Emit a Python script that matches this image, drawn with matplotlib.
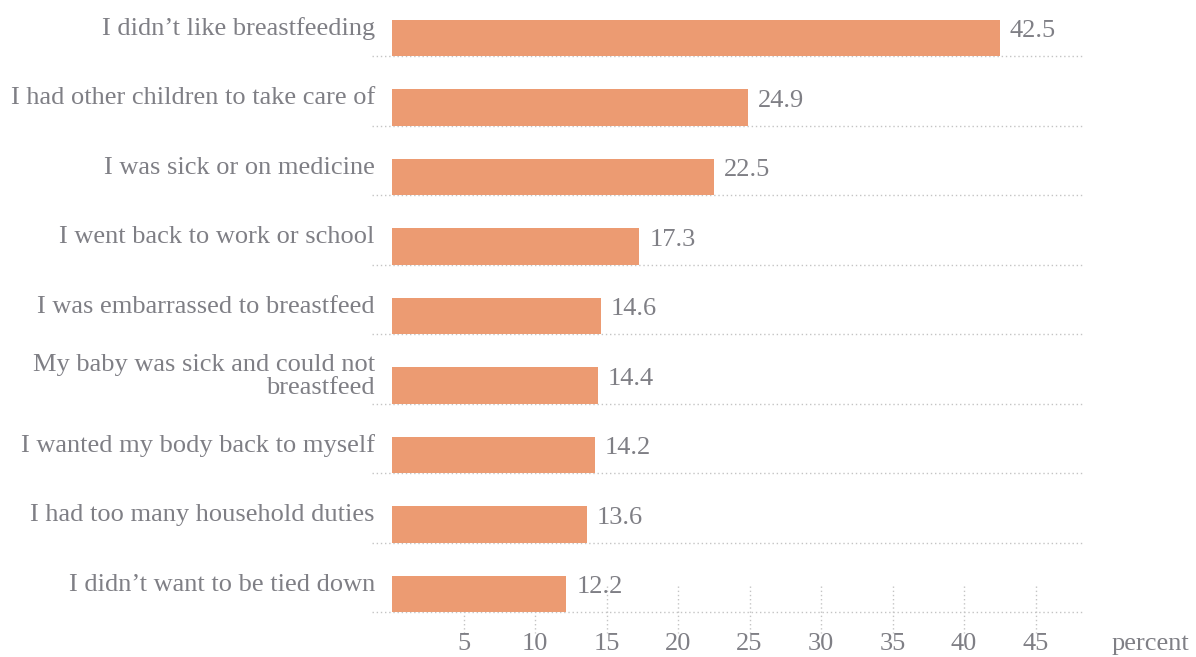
import matplotlib.pyplot as plt
import numpy as np

reasons = [
    "I didn\u2019t like breastfeeding",
    "I had other children to take care of",
    "I was sick or on medicine",
    "I went back to work or school",
    "I was embarrassed to breastfeed",
    "My baby was sick and could not\nbreastfeed",
    "I wanted my body back to myself",
    "I had too many household duties",
    "I didn\u2019t want to be tied down",
]
percent = [42.5, 24.9, 22.5, 17.3, 14.6, 14.4, 14.2, 13.6, 12.2]
ticks = [5, 10, 15, 20, 25, 30, 35, 40, 45]

BAR = "#ec9b72"
TXT = "#7f7f85"
GRID = "#c4c4c4"


def draw():
    plt.rcParams["font.family"] = ["Liberation Serif", "DejaVu Serif"]

    fig = plt.figure(figsize=(11.96, 6.57), dpi=100)
    ax = fig.add_axes([372 / 1196, 0, (1085 - 372) / 1196, 1])

    y = np.arange(len(reasons))
    h = 0.52

    ax.barh(y, percent, height=h, color=BAR, zorder=3)
    # dotted rule under each bar
    ax.hlines(y + h / 2, -1.4, 48.46, colors=GRID, linestyles=(0, (1, 2)),
              linewidth=1, zorder=2)
    # short tick lines at the bottom
    ax.vlines(ticks, 7.885, 8.56, colors=GRID, linestyles=(0, (1, 2)),
              linewidth=1, zorder=1)

    for yi, lab, v in zip(y, reasons, percent):
        ax.text(-1.2, yi - 0.13, lab, ha="right", va="center", fontsize=19,
                color=TXT, linespacing=1.1)
        ax.text(v + 0.7, yi - 0.10, f"{v:.1f}", ha="left", va="center",
                fontsize=19, color=TXT, zorder=4)

    for t in ticks:
        ax.text(t, 8.72, str(t), ha="center", va="center", fontsize=19,
                color=TXT, clip_on=False)
    ax.text(53.0, 8.72, "percent", ha="center", va="center", fontsize=19,
            color=TXT, clip_on=False)

    ax.set_xlim(-1.4, 48.46)
    ax.set_ylim(8.906, -0.547)
    ax.axis("off")

    fig.savefig("out.png", dpi=100)


if __name__ == "__main__":
    draw()
